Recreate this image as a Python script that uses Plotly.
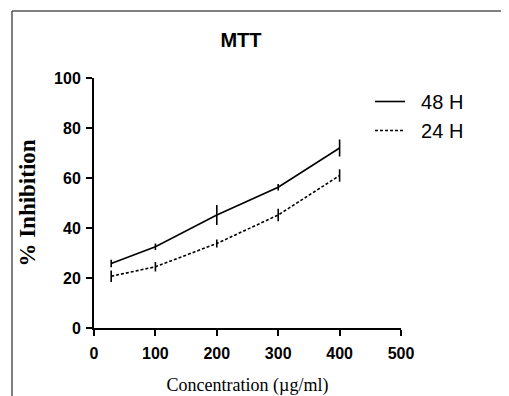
import plotly.graph_objects as go

conc = [28, 100, 200, 300, 400]
inh_48h = [25.8, 32.5, 45.2, 56.3, 72.0]
err_48h = [1.5, 1.3, 4.0, 1.3, 3.4]
inh_24h = [20.7, 24.5, 33.8, 45.2, 61.0]
err_24h = [2.3, 1.9, 1.6, 2.5, 2.5]
series_names = ["\u00a0\u00a048 H", "\u00a0\u00a024 H"]
x_ticks = [0, 100, 200, 300, 400, 500]
y_ticks = [0, 20, 40, 60, 80, 100]

fig = go.Figure()
fig.add_trace(go.Scatter(
    x=conc, y=inh_48h, mode="lines", name=series_names[0], legendgroup="a",
    line=dict(color="black", width=1.6),
    error_y=dict(type="data", array=err_48h, visible=True, width=0, thickness=1.6, color="black"),
))
fig.add_trace(go.Scatter(
    x=conc, y=inh_24h, mode="lines", name=series_names[1], legendgroup="b",
    line=dict(color="black", width=1.6, dash="3px,2px"),
    error_y=dict(type="data", array=err_24h, visible=True, width=0, thickness=1.6, color="black"),
))

# page is offset by the 8px body margin; work in page pixels and convert
OFF = 8
W, H = 501, 388
# plot area in page pixels: x 94..401, y 78..328
PL, PR, PT, PB = 94, 401, 78, 328
L, R, T, B = PL - OFF, W - (PR - OFF), PT - OFF, H - (PB - OFF)
pw, ph = W - L - R, H - T - B

def px_x(p):
    return (p - OFF - L) / pw

def px_y(p):
    return (H - B - (p - OFF)) / ph

frame = dict(color="#555555", width=1.5)
fig.update_layout(
    width=W, height=H,
    margin=dict(l=L, r=R, t=T, b=B, autoexpand=False),
    paper_bgcolor="white", plot_bgcolor="white",
    title=dict(text="<b>MTT</b>", x=px_x(241), xref="paper", xanchor="center",
               y=1 - (40 - OFF) / H, yanchor="middle",
               font=dict(family="Liberation Sans, Arial", size=20, color="black")),
    xaxis=dict(range=[0, 500], tickvals=x_ticks, ticktext=[f"<b>{v}</b>" for v in x_ticks],
               automargin=False,
               showgrid=False, zeroline=False, showline=True, linecolor="black", linewidth=2,
               ticks="outside", ticklen=6, tickwidth=2, tickcolor="black", ticklabelstandoff=4,
               tickfont=dict(family="Liberation Sans, Arial", size=16, color="black"),
               title=dict(text="Concentration (µg/ml)", standoff=18,
                          font=dict(family="Liberation Serif, Times New Roman", size=18, color="black"))),
    yaxis=dict(range=[0, 100], tickvals=y_ticks, ticktext=[f"<b>{v}</b>" for v in y_ticks],
               automargin=False,
               showgrid=False, zeroline=False, showline=True, linecolor="black", linewidth=2,
               ticks="outside", ticklen=6, tickwidth=2, tickcolor="black", ticklabelstandoff=2,
               tickfont=dict(family="Liberation Sans, Arial", size=16, color="black"),
               title=dict(text="<b>% Inhibition</b>", standoff=12,
                          font=dict(family="Liberation Serif, Times New Roman", size=23, color="black"))),
    legend=dict(x=px_x(370), y=px_y(82), xanchor="left", yanchor="top",
                bgcolor="rgba(0,0,0,0)", tracegroupgap=0,
                font=dict(family="Liberation Sans Narrow, Arial Narrow, Liberation Sans", size=20, color="black")),
    shapes=[
        dict(type="line", xref="paper", yref="paper",
             x0=px_x(12), x1=px_x(12), y0=px_y(11), y1=px_y(420), line=frame, layer="below"),
        dict(type="line", xref="paper", yref="paper",
             x0=px_x(12), x1=px_x(540), y0=px_y(11), y1=px_y(11), line=frame, layer="below"),
    ],
)

fig.write_html("out.html")
